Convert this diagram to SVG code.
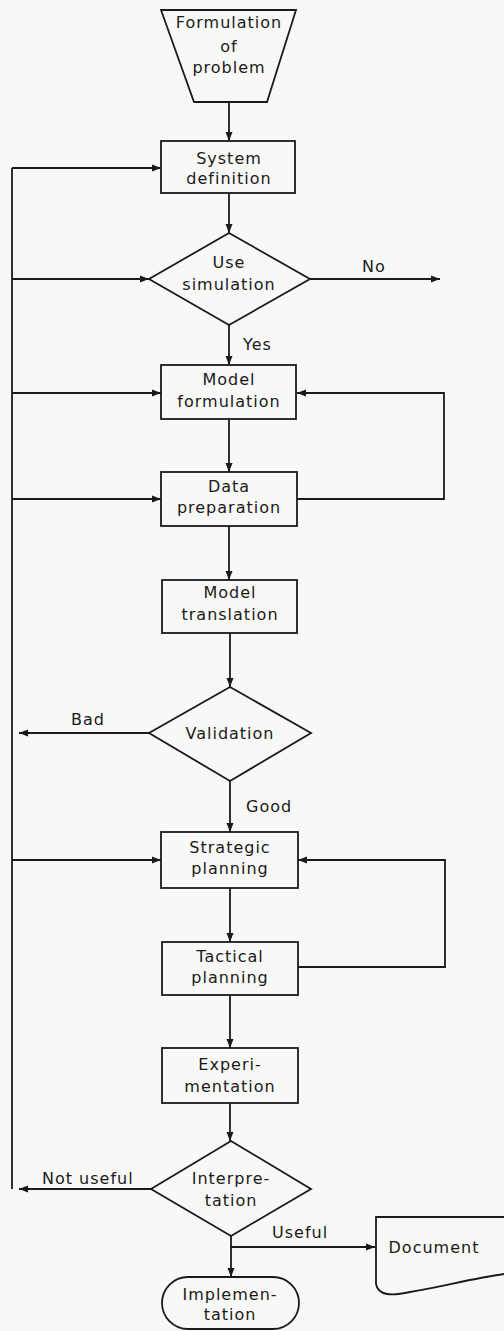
<svg xmlns="http://www.w3.org/2000/svg" width="504" height="1331" viewBox="0 0 504 1331">
<style>
.n{fill:none;stroke:#1a1a1a;stroke-width:1.8}
.t{font-family:"DejaVu Sans",sans-serif;font-size:16px;letter-spacing:1px;fill:#1a1a1a;text-anchor:middle}
.l{font-family:"DejaVu Sans",sans-serif;font-size:16px;letter-spacing:1px;fill:#1a1a1a}
.c{fill:none;stroke:#1a1a1a;stroke-width:1.8}
.a{marker-end:url(#ah)}
</style>
<defs>
<marker id="ah" markerUnits="userSpaceOnUse" markerWidth="9" markerHeight="8" refX="9" refY="4" orient="auto">
<path d="M0,0.5 L9,4 L0,7.5 z" fill="#1a1a1a"/>
</marker>
</defs>
<rect x="0" y="0" width="504" height="1331" fill="#f8f8f6"/>

<g id="connectors">
<path class="c a" d="M229,102 V141"/>
<path class="c" d="M12,168 V1189"/>
<path class="c a" d="M12,168 H161"/>
<path class="c a" d="M229,193 V233"/>
<path class="c a" d="M12,279 H149"/>
<path class="c a" d="M310,279 H440"/>
<path class="c a" d="M229,325 V365"/>
<path class="c a" d="M12,393 H161"/>
<path class="c a" d="M229,419 V472"/>
<path class="c a" d="M12,499 H161"/>
<path class="c a" d="M297,499 H444 V393 H297"/>
<path class="c a" d="M229,526 V580"/>
<path class="c a" d="M230,633 V687"/>
<path class="c a" d="M149,733 H19"/>
<path class="c a" d="M230,781 V832"/>
<path class="c a" d="M12,860 H161"/>
<path class="c a" d="M230,888 V942"/>
<path class="c a" d="M298,967 H445 V860 H298"/>
<path class="c a" d="M230,995 V1048"/>
<path class="c a" d="M230,1103 V1141"/>
<path class="c a" d="M151,1189 H19"/>
<path class="c a" d="M231,1236 V1277"/>
<path class="c a" d="M231,1247 H375"/>
<text class="l" x="362" y="272">No</text>
<text class="l" x="243" y="350">Yes</text>
<text class="l" x="71" y="725">Bad</text>
<text class="l" x="246" y="812">Good</text>
<text class="l" x="42" y="1184">Not useful</text>
<text class="l" x="272" y="1238">Useful</text>
</g>

<g id="formulation">
<path class="n" d="M161,10 H296 L267,102 H194 Z"/>
<text class="t" x="229" y="28">Formulation</text>
<text class="t" x="229" y="52">of</text>
<text class="t" x="229" y="73">problem</text>
</g>

<g id="system-definition">
<rect class="n" x="161" y="141" width="134" height="52"/>
<text class="t" x="229" y="164">System</text>
<text class="t" x="229" y="184">definition</text>
</g>

<g id="use-simulation">
<path class="n" d="M229,233 L310,279 L229,325 L149,279 Z"/>
<text class="t" x="229" y="268">Use</text>
<text class="t" x="229" y="290">simulation</text>
</g>

<g id="model-formulation">
<rect class="n" x="161" y="365" width="135" height="54"/>
<text class="t" x="229" y="385">Model</text>
<text class="t" x="229" y="407">formulation</text>
</g>

<g id="data-preparation">
<rect class="n" x="161" y="472" width="136" height="54"/>
<text class="t" x="229" y="492">Data</text>
<text class="t" x="229" y="513">preparation</text>
</g>

<g id="model-translation">
<rect class="n" x="162" y="580" width="135" height="53"/>
<text class="t" x="230" y="598">Model</text>
<text class="t" x="230" y="620">translation</text>
</g>

<g id="validation">
<path class="n" d="M230,687 L311,733 L230,781 L149,733 Z"/>
<text class="t" x="230" y="739">Validation</text>
</g>

<g id="strategic-planning">
<rect class="n" x="161" y="832" width="137" height="56"/>
<text class="t" x="230" y="853">Strategic</text>
<text class="t" x="230" y="874">planning</text>
</g>

<g id="tactical-planning">
<rect class="n" x="162" y="942" width="136" height="53"/>
<text class="t" x="230" y="962">Tactical</text>
<text class="t" x="230" y="983">planning</text>
</g>

<g id="experimentation">
<rect class="n" x="162" y="1048" width="136" height="55"/>
<text class="t" x="230" y="1070">Experi-</text>
<text class="t" x="230" y="1092">mentation</text>
</g>

<g id="interpretation">
<path class="n" d="M231,1141 L311,1189 L231,1236 L151,1189 Z"/>
<text class="t" x="231" y="1184">Interpre-</text>
<text class="t" x="231" y="1206">tation</text>
</g>

<g id="document">
<path class="n" d="M504,1217 H376 V1284 C378,1296 392,1296 410,1292 C440,1287 475,1278 504,1274"/>
<text class="t" x="434" y="1253">Document</text>
</g>

<g id="implementation">
<rect class="n" x="162" y="1277" width="137" height="52" rx="26" ry="26"/>
<text class="t" x="230" y="1300">Implemen-</text>
<text class="t" x="230" y="1320">tation</text>
</g>
</svg>
